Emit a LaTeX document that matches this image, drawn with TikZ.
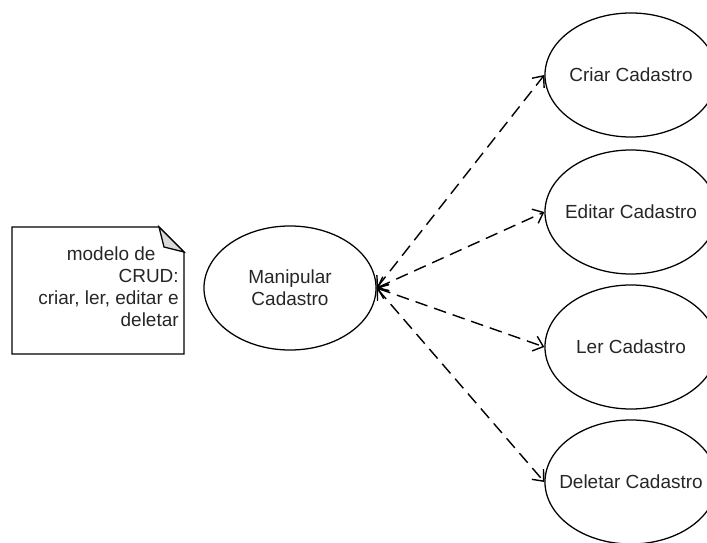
\documentclass[tikz,border=0pt]{standalone}
\usepackage{fontspec}
\setmainfont{Liberation Sans}
\usetikzlibrary{positioning}
\usetikzlibrary{shapes.geometric}
\usetikzlibrary{arrows.meta}

\begin{document}
\begin{tikzpicture}[x=0.025cm, y=-0.025cm,
  caso/.style={draw, ellipse, line width=0.9pt, minimum width=4.3cm, minimum height=3.1cm, inner sep=0pt, font=\fontsize{13.5}{15.6}\selectfont, text=black!85, align=center},
  liga/.style={line width=1pt, dash pattern=on 9pt off 5pt, {Straight Barb[length=6.5pt,width=11pt]}-{Straight Barb[length=6.5pt,width=11pt]}}]
\useasboundingbox (0,0) rectangle (707,543);

%draw note
\draw[line width=0.9pt] (12,227) -- (159,227) -- (184,252) -- (184,354) -- (12,354) -- cycle;
\draw[line width=0.9pt, fill=gray!30] (159,227) -- (164,247) -- (184,252) -- cycle;
\node[anchor=east, align=right, inner sep=0pt, font=\fontsize{13.5}{15.6}\selectfont, text=black!85] (nota) at (179,287) {modelo de\hspace*{0.58cm}\mbox{}\\CRUD:\\criar, ler, editar e\\deletar};

%use cases
\node[caso] (manip) at (290,288) {\makebox[0pt]{Manipular}\\\makebox[0pt]{Cadastro}};
\node[caso] (criar) at (631,75) {\makebox[0pt]{Criar Cadastro}};
\node[caso] (editar) at (631,212) {\makebox[0pt]{Editar Cadastro}};
\node[caso] (ler) at (631,347) {\makebox[0pt]{Ler Cadastro}};
\node[caso] (deletar) at (631,482) {\makebox[0pt]{Deletar Cadastro}};

%connectors
\foreach \c in {criar,editar,ler,deletar}
  \draw[liga] (manip.east) -- (\c.west);
\end{tikzpicture}
\end{document}
